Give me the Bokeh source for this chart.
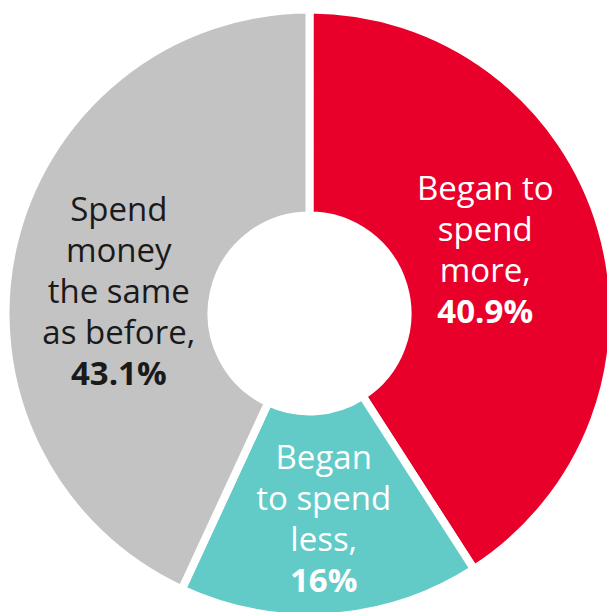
import math
from bokeh.plotting import figure
from bokeh.models import ColumnDataSource
from bokeh.core.properties import value
from bokeh.embed import file_html
from bokeh.resources import INLINE

# ---- data ----
categories = ["Began to spend more", "Began to spend less", "Spend money the same as before"]
shares = [40.9, 16.0, 43.1]
label_lines = [["Began to", "spend", "more,"],
               ["Began", "to spend", "less,"],
               ["Spend", "money", "the same", "as before,"]]
pct_labels = ["40.9%", "16%", "43.1%"]

# ---- style ----
colors = ["#E8002B", "#62CAC7", "#C3C3C3"]
text_colors = ["#FFFFFF", "#FFFFFF", "#1A1A1A"]
label_radius = [187, 206, 192]
label_angle_nudge = [-3.6, 0.0, -5.8]   # degrees, clockwise
W, H = 607, 612
CX, CY = 309, H - 313
R_OUT, R_IN = 304, 98
FONT = "Open Sans"
FS = 33
LINE = 41
BASE_SHIFT = 1

total = sum(shares)
starts, ends, mids = [], [], []
cum = 0.0
for s in shares:
    f0 = cum / total
    f1 = (cum + s) / total
    starts.append(math.pi / 2 - 2 * math.pi * f0)
    ends.append(math.pi / 2 - 2 * math.pi * f1)
    mids.append((f0 + f1) / 2 * 360.0)
    cum += s

p = figure(width=W, height=H, x_range=(0, W), y_range=(0, H),
           output_backend="svg", toolbar_location=None, min_border=0,
           x_axis_location=None, y_axis_location=None)
p.grid.visible = False
p.outline_line_color = None
p.background_fill_color = "white"
p.border_fill_color = "white"

src = ColumnDataSource(dict(start=starts, end=ends, color=colors, cat=categories))
p.annular_wedge(x=CX, y=CY, inner_radius=R_IN, outer_radius=R_OUT,
                start_angle="start", end_angle="end", direction="clock",
                fill_color="color", line_color="white", line_width=8,
                line_join="round", source=src)

nx, ny, nt, nc = [], [], [], []
bx, by, bt, bc = [], [], [], []
for i in range(len(shares)):
    ang = math.radians(mids[i] + label_angle_nudge[i])
    cx = CX + label_radius[i] * math.sin(ang)
    cy = CY + label_radius[i] * math.cos(ang)
    lines = label_lines[i] + [pct_labels[i]]
    n = len(lines)
    mid_base = cy + BASE_SHIFT
    for j, t in enumerate(lines):
        y = mid_base - (j - (n - 1) / 2) * LINE
        if j == n - 1:
            bx.append(cx); by.append(y); bt.append(t); bc.append(text_colors[i])
        else:
            nx.append(cx); ny.append(y); nt.append(t); nc.append(text_colors[i])

p.text(x="x", y="y", text="t", text_color="c",
       source=ColumnDataSource(dict(x=nx, y=ny, t=nt, c=nc)),
       text_font=value(FONT), text_font_size=f"{FS}px",
       text_align="center", text_baseline="alphabetic")
p.text(x="x", y="y", text="t", text_color="c",
       source=ColumnDataSource(dict(x=bx, y=by, t=bt, c=bc)),
       text_font=value(FONT), text_font_size=f"{FS}px", text_font_style="bold",
       text_align="center", text_baseline="alphabetic")

open("out.html", "w").write(file_html(p, INLINE))
